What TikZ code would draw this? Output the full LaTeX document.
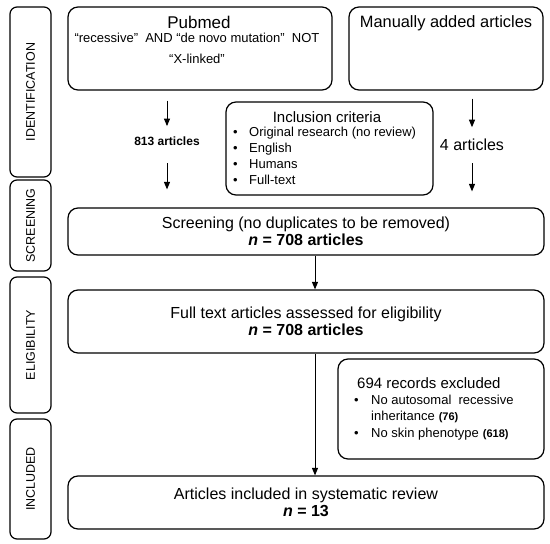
\documentclass[tikz,border=0pt]{standalone}
\usepackage{fontspec}
\setmainfont{Liberation Sans}
\usetikzlibrary{arrows.meta}
\begin{document}
\begin{tikzpicture}[x=1pt,y=-1pt,
  box/.style={draw,line width=1.2pt,rounded corners=10pt,inner sep=0pt},
  sidebox/.style={draw,line width=1.2pt,rounded corners=7pt,inner sep=0pt,rotate=90,minimum height=41pt,font=\fontsize{12.5}{14}\selectfont},
  stagebox/.style={box,minimum width=476pt,align=center,font=\fontsize{16}{17.5}\selectfont},
  arr/.style={-{Triangle[length=7.5pt,width=6pt]},line width=1pt}]
\useasboundingbox (0,0) rectangle (550,544);
\node[sidebox,minimum width=170pt] (sideid) at (30.5,92) {IDENTIFICATION};
\node[sidebox,minimum width=91pt] (sidescr) at (30.5,225.5) {SCREENING};
\node[sidebox,minimum width=136pt] (sideel) at (30.5,345) {ELIGIBILITY};
\node[sidebox,minimum width=120pt] (sideinc) at (30.5,479) {INCLUDED};
\node[box,minimum width=264pt,minimum height=83pt] (pub) at (200,48.5) {};
\node[anchor=base,font=\fontsize{17}{19}\selectfont] (pubtitle) at (199,28) {Pubmed};
\node[anchor=base,align=center,font=\fontsize{13}{21}\selectfont] (pubquery) at (197,63)
  {“recessive”\ \ AND “de novo mutation”\ \ NOT\\“X-linked”};
\node[box,minimum width=194pt,minimum height=83pt] (man) at (446,48.5) {};
\node[anchor=base,font=\fontsize{16.4}{18}\selectfont] (mantitle) at (446,27) {Manually added articles};
\node[box,minimum width=207pt,minimum height=93pt] (incrit) at (329.5,148.5) {};
\node[anchor=base,font=\fontsize{15}{17}\selectfont] (inctitle) at (327,122) {Inclusion criteria};
\node[anchor=base west,inner sep=0pt,align=left,font=\fontsize{13}{16}\selectfont] (inclist) at (233,184)
  {\makebox[16pt][l]{•}Original research (no review)\\\makebox[16pt][l]{•}English\\
   \makebox[16pt][l]{•}Humans\\\makebox[16pt][l]{•}Full-text};
\node[anchor=base,inner sep=0pt,font=\bfseries\fontsize{12}{14}\selectfont] (n813) at (167,145) {813 articles};
\node[anchor=base,inner sep=0pt,font=\fontsize{16}{18}\selectfont] (n4) at (472,150) {4 articles};
\node[stagebox,minimum height=47pt] (scr) at (306,231.5)
  {Screening (no duplicates to be removed)\\\textbf{\textit{n} = 708 articles}};
\node[stagebox,minimum height=63pt] (full) at (306,321.5)
  {Full text articles assessed for eligibility\\\textbf{\textit{n} = 708 articles}};
\node[box,minimum width=206pt,minimum height=100pt] (excl) at (441,409) {};
\node[anchor=base west,inner sep=0pt,font=\fontsize{15}{17}\selectfont] (excltitle) at (357,388) {694 records excluded};
\node[anchor=base west,inner sep=0pt,align=left,font=\fontsize{13}{16.5}\selectfont] (excllist) at (354,437)
  {\makebox[17pt][l]{•}No autosomal\ \ recessive\\\makebox[17pt][l]{}inheritance\hspace{4pt}\textbf{\fontsize{11}{16.5}\selectfont(76)}\\
   \makebox[17pt][l]{•}No skin phenotype\hspace{4pt}\textbf{\fontsize{11}{16.5}\selectfont(618)}};
\node[stagebox,minimum height=53pt] (incl) at (306,502.5)
  {Articles included in systematic review\\\textbf{\textit{n} = 13}};
\draw[arr,shorten <=10pt,shorten >=10pt] (pub.south -| n813) -- (n813.north);
\draw[arr,shorten <=18pt,shorten >=18pt] (n813.south) -- (scr.north -| n813);
\draw[arr,shorten <=8pt,shorten >=11pt] (man.south -| n4) -- (n4.north);
\draw[arr,shorten <=13pt,shorten >=16pt] (n4.south) -- (scr.north -| n4);
\draw[arr] ([xshift=9pt]scr.south) -- ([xshift=9pt]full.north);
\draw[arr] ([xshift=9pt]full.south) -- ([xshift=9pt]incl.north);
\end{tikzpicture}
\end{document}
